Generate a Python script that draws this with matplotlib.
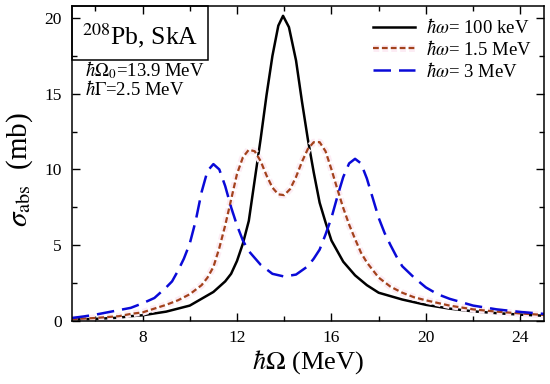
import matplotlib
matplotlib.use("Agg")
import matplotlib.pyplot as plt
import matplotlib.patheffects as pe
from matplotlib.patches import Rectangle
from matplotlib.ticker import MultipleLocator

plt.rcParams["font.family"] = "Liberation Serif"
plt.rcParams["mathtext.fontset"] = "stix"

# hw = 100 keV (black)
e_black = [5, 6, 7, 7.5, 8, 9, 10, 10.5, 11, 11.5, 11.75, 12, 12.25, 12.5, 12.75,
           13, 13.25, 13.5, 13.75, 13.95, 14.2, 14.5, 14.75, 15, 15.25, 15.5,
           15.75, 16, 16.5, 17, 17.5, 18, 19, 20, 21, 22, 23, 24, 25]
s_black = [0.08, 0.12, 0.2, 0.3, 0.36, 0.6, 1.0, 1.45, 1.9, 2.6, 3.1, 3.95, 5.1, 6.6, 9.3,
           12.0, 14.9, 17.5, 19.5, 20.15, 19.4, 17.2, 14.5, 12.0, 9.8, 7.8,
           6.5, 5.3, 3.9, 3.0, 2.35, 1.85, 1.4, 1.05, 0.8, 0.62, 0.5, 0.4, 0.33]

# hw = 1.5 MeV (red dashed)
e_red = [5, 6, 7, 7.5, 8, 9, 9.5, 10, 10.5, 10.75, 11, 11.25, 11.5, 11.75, 12,
         12.25, 12.5, 12.75, 13, 13.25, 13.5, 13.75, 14, 14.25, 14.5, 14.75, 15,
         15.25, 15.5, 15.75, 16, 16.25, 16.5, 16.75, 17, 17.25, 17.5, 18, 18.5,
         19, 19.5, 20, 21, 22, 23, 24, 25]
s_red = [0.1, 0.18, 0.3, 0.45, 0.55, 1.05, 1.35, 1.75, 2.35, 2.85, 3.55, 4.8, 6.3, 8.0, 9.7,
         10.8, 11.3, 11.2, 10.55, 9.6, 8.8, 8.35, 8.3, 8.7, 9.5, 10.5, 11.35,
         11.8, 11.8, 11.2, 10.0, 8.7, 7.45, 6.35, 5.4, 4.5, 3.85, 2.85, 2.25,
         1.85, 1.55, 1.35, 1.0, 0.75, 0.6, 0.48, 0.38]

# hw = 3 MeV (blue long dashes)
e_blue = [5, 5.5, 6, 6.5, 7, 7.5, 8, 8.5, 9, 9.25, 9.5, 9.75, 10, 10.25, 10.5, 10.75,
          11, 11.25, 11.5, 11.75, 12, 12.25, 12.5, 13, 13.5, 14, 14.5, 15, 15.25,
          15.5, 15.75, 16, 16.25, 16.5, 16.75, 17, 17.25, 17.5, 17.75, 18, 18.25,
          18.5, 18.75, 19, 19.5, 20, 20.5, 21, 22, 23, 24, 25]
s_blue = [0.18, 0.28, 0.4, 0.55, 0.7, 0.85, 1.15, 1.5, 2.2, 2.6, 3.3, 4.1, 5.1, 6.6, 8.5, 9.9,
          10.35, 10.0, 8.9, 7.5, 6.3, 5.3, 4.6, 3.7, 3.1, 2.92, 3.05, 3.6, 4.1,
          4.7, 5.7, 6.8, 8.2, 9.5, 10.4, 10.7, 10.4, 9.4, 8.1, 6.8, 5.8,
          5.0, 4.25, 3.6, 2.85, 2.2, 1.75, 1.45, 1.0, 0.75, 0.58, 0.45]

labels = [r"$\hbar\omega$= 100 keV", r"$\hbar\omega$= 1.5 MeV", r"$\hbar\omega$= 3 MeV"]

fig = plt.figure(figsize=(5.5, 3.84), dpi=100)
ax = fig.add_axes([0.1304, 0.1648, 0.8586, 0.8196])

ax.plot(e_black, s_black, color="black", lw=1.8, label=labels[0])
ax.plot(e_red, s_red, color="#a3421c", lw=1.6, dashes=(2.6, 1.4), label=labels[1],
        path_effects=[pe.Stroke(linewidth=5, foreground="#fcecf4"), pe.Normal()])
ax.plot(e_blue, s_blue, color="#0a0ad8", lw=1.8, dashes=(7, 3.2), label=labels[2])

ax.set_xlim(5, 25)
ax.set_ylim(0, 20.8)
ax.xaxis.set_major_locator(MultipleLocator(4))
ax.xaxis.set_minor_locator(MultipleLocator(2))
ax.yaxis.set_major_locator(MultipleLocator(5))
ax.yaxis.set_minor_locator(MultipleLocator(2.5))
ax.tick_params(which="both", direction="in", top=True, right=True, labelsize=12.5, width=1.0)
ax.tick_params(which="major", length=6, pad=7)
ax.tick_params(which="minor", length=3.5)
for s in ax.spines.values():
    s.set_linewidth(1.1)

ax.set_xlabel(r"$\hbar\Omega$ (MeV)", fontsize=19, labelpad=1)
ax.set_ylabel(r"$\sigma_{\rm abs}$  (mb)", fontsize=21)
ax.yaxis.set_label_coords(-0.077, 0.48)

ax.legend(loc="upper right", frameon=False, fontsize=13.5, handlelength=2.2,
          handletextpad=0.6, labelspacing=0.15, borderaxespad=0.25, borderpad=0.4)

# box with nucleus / force label
ax.add_patch(Rectangle((0, 0.828), 0.2886, 0.172, transform=ax.transAxes,
                       fill=False, lw=1.1, color="black", clip_on=False))
ax.text(0.1443, 0.905, r"$^{208}$Pb, SkA", transform=ax.transAxes,
        ha="center", va="center", fontsize=18.5)
ax.text(0.028, 0.797, r"$\hbar\Omega_0$=13.9 MeV", transform=ax.transAxes,
        ha="left", va="center", fontsize=13.5)
ax.text(0.028, 0.734, r"$\hbar\Gamma$=2.5 MeV", transform=ax.transAxes,
        ha="left", va="center", fontsize=13.5)

fig.savefig("out.png", dpi=100)
